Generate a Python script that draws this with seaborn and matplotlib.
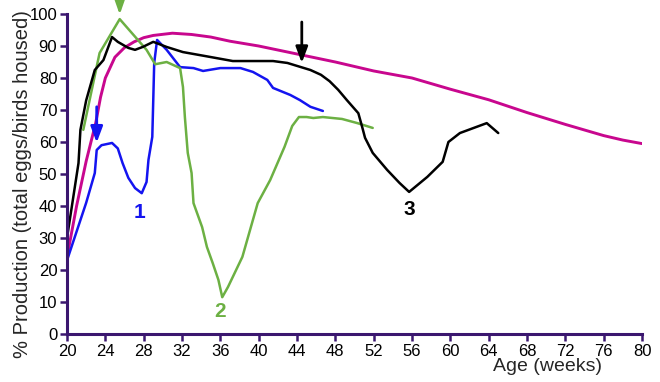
import matplotlib
matplotlib.use("Agg")
import matplotlib.pyplot as plt
import seaborn as sns
import pandas as pd

# ---- data ----
std_weeks = [20, 21, 22, 23, 23.5, 24, 25, 26, 27, 28, 29, 31, 33, 35, 37, 40, 44, 48,
             52, 56, 60, 64, 68, 72, 76, 78, 80]
std_prod = [24, 40, 54, 66, 74, 80, 86.5, 89.5, 91.3, 92.6, 93.3, 94, 93.6, 92.8, 91.5,
            90, 87.5, 85, 82.2, 80, 76.5, 73.2, 69.2, 65.5, 62, 60.6, 59.5]

f1_weeks = [20, 21, 22, 22.9, 23.1, 23.6, 24.7, 25.3, 25.8, 26.4, 27.1, 27.8, 28.3, 28.5,
            28.9, 29.0, 29.1, 29.4, 30.4, 31.8, 33.2, 34.2, 36, 38.1, 39.4, 40.9, 41.5,
            43.3, 44.3, 45.4, 46.7]
f1_prod = [23, 32, 41, 50.3, 57.5, 59, 59.7, 58, 53.4, 48.8, 45.6, 44, 47.5, 54.4,
           61.6, 73, 84.7, 91.9, 88.8, 83.4, 83.1, 82.2, 83.1, 83.1, 81.9, 79.4, 76.9,
           74.7, 73.1, 71, 69.7]

f2_weeks = [21.7, 23.4, 25.5, 28.3, 29.2, 30.4, 31.8, 32.1, 32.3, 32.6, 33.0, 33.2,
            34.1, 34.6, 35.2, 35.8, 36.2, 36.8, 38.3, 39.9, 41.2, 42.7, 43.5, 44.2,
            45.0, 45.7, 46.7, 48.7, 50.3, 51.9]
f2_prod = [63.8, 87.8, 98.4, 88.8, 84.3, 85, 83.1, 77.2, 67.8, 56.6, 50.3, 40.9,
           33.4, 27.2, 22.2, 16.9, 11.5, 14.7, 24.1, 40.9, 48.1, 58.5, 65, 67.8,
           67.8, 67.5, 67.8, 67.2, 65.9, 64.4]

f3_weeks = [20, 21.2, 21.4, 22, 22.9, 23.8, 24.7, 25.3, 26.4, 27.1, 27.9, 29, 30.4,
            32.1, 34.9, 37.3, 41.5, 43, 45.4, 46.5, 47.4, 48.3, 49.2, 50.4, 50.8, 51.1,
            51.9, 53.4, 54.7, 55.7, 57.6, 59.2, 59.8, 61, 63.8, 65]
f3_prod = [30, 53.4, 63.8, 73, 82.5, 85.6, 92.8, 91.3, 89.4, 88.8, 89.7, 91.3, 89.7,
           88.1, 86.6, 85.3, 85.3, 84.7, 82.5, 81, 79, 76.3, 73.1, 69, 64.7, 61.3,
           56.6, 51.3, 47.2, 44.4, 49.1, 53.8, 60, 62.8, 65.9, 62.8]

x_ticks = list(range(20, 81, 4))
y_ticks = list(range(0, 101, 10))

labels = ["1", "2", "3"]
label_pos = [(27.6, 38.0), (36.0, 6.9), (55.7, 38.8)]

# ---- style ----
sns.set_theme(style="white")
plt.rcParams["font.family"] = ["Liberation Sans", "DejaVu Sans"]

C_STD = "#c8078e"
C_F1 = "#1414f0"
C_F2 = "#6cb043"
C_F3 = "#000000"
AXC = "#3b176f"

df = pd.concat([
    pd.DataFrame({"week": std_weeks, "prod": std_prod, "series": "standard"}),
    pd.DataFrame({"week": f1_weeks, "prod": f1_prod, "series": "flock1"}),
    pd.DataFrame({"week": f2_weeks, "prod": f2_prod, "series": "flock2"}),
    pd.DataFrame({"week": f3_weeks, "prod": f3_prod, "series": "flock3"}),
], ignore_index=True)

fig = plt.figure(figsize=(6.6, 3.82), dpi=100)
ax = fig.add_axes([67 / 660, 48 / 382, 575 / 660, 320 / 382])

palette = {"standard": C_STD, "flock1": C_F1, "flock2": C_F2, "flock3": C_F3}
sizes = {"standard": 2.1, "flock1": 1.8, "flock2": 1.8, "flock3": 1.8}
sns.lineplot(data=df, x="week", y="prod", hue="series", size="series",
             sizes=sizes, palette=palette, estimator=None, sort=False,
             legend=False, ax=ax)

ax.set_xlim(20, 80)
ax.set_ylim(0, 100)
ax.set_xticks(x_ticks)
ax.set_yticks(y_ticks)
for s in ["top", "right"]:
    ax.spines[s].set_visible(False)
for s in ["left", "bottom"]:
    ax.spines[s].set_color(AXC)
    ax.spines[s].set_linewidth(2.2)
ax.tick_params(axis="both", direction="out", length=5, width=1.8, color=AXC,
               labelsize=12, labelcolor="black", pad=2)
ax.tick_params(axis="x", bottom=True)
ax.tick_params(axis="y", left=True)
for sp in ax.spines.values():
    sp.set_clip_on(False)

ax.set_xlabel("Age (weeks)", fontsize=14)
ax.xaxis.set_label_coords(0.835, -0.075)
ax.set_ylabel("% Production (total eggs/birds housed)", fontsize=14.5)
ax.yaxis.set_label_coords(-0.06, 0.47)

for lab, (x, y), c in zip(labels, label_pos, [C_F1, C_F2, C_F3]):
    ax.text(x, y, lab, color=c, fontsize=15, fontweight="bold",
            ha="center", va="center")

# arrows
ax.annotate("", xy=(23.1, 59.8), xytext=(23.1, 71),
            arrowprops=dict(arrowstyle="-|>,head_length=0.8,head_width=0.3",
                            color=C_F1, lw=2, shrinkA=0, shrinkB=0))
ax.annotate("", xy=(44.5, 84.7), xytext=(44.5, 97.5),
            arrowprops=dict(arrowstyle="-|>,head_length=0.8,head_width=0.3",
                            color=C_F3, lw=2, shrinkA=0, shrinkB=0))
ax.annotate("", xy=(25.5, 99.8), xytext=(25.5, 106),
            arrowprops=dict(arrowstyle="-|>,head_length=1.0,head_width=0.35",
                            color=C_F2, lw=2, shrinkA=0, shrinkB=0),
            annotation_clip=False)

fig.savefig("out.png", dpi=100)
